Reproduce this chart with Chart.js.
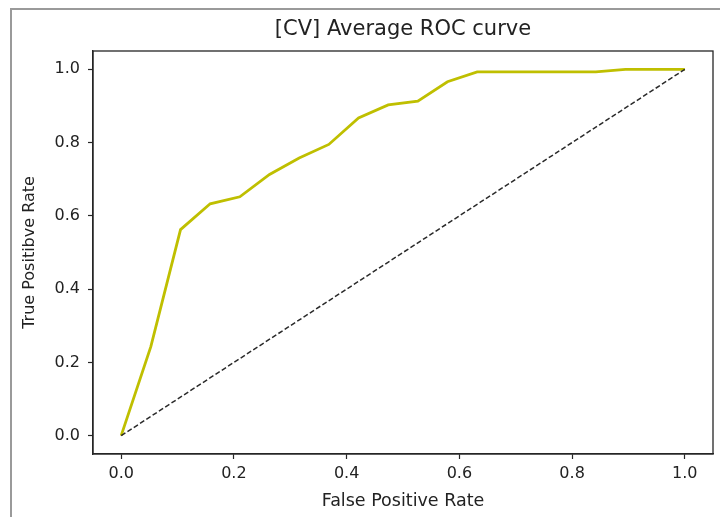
<!DOCTYPE html>
<html>
<head>
<meta charset="utf-8">
<script src="https://cdn.jsdelivr.net/npm/chart.js@4"></script>
<style>
  html, body { margin: 0; padding: 0; background: #fff; }
  #wrap { position: relative; width: 720px; height: 517px; overflow: hidden; }
  #frame { position: absolute; left: 10px; top: 8px; width: 800px; height: 600px;
           border-left: 2px solid #9a9a9a; border-top: 2px solid #9a9a9a; pointer-events: none; }
  canvas { position: absolute; left: 0; top: 0; }
</style>
</head>
<body>
<div id="wrap">
  <canvas id="c" width="720" height="517"></canvas>
  <div id="frame"></div>
</div>
<script>
// ---- data ----
const titleText = "[CV] Average ROC curve";
const xLabel = "False Positive Rate";
const yLabel = "True Positibve Rate";
const fpr = [0, 0.0526, 0.1053, 0.1579, 0.2105, 0.2632, 0.3158, 0.3684, 0.4211, 0.4737,
             0.5263, 0.5789, 0.6316, 0.6842, 0.7368, 0.7895, 0.8421, 0.8947, 0.9474, 1.0];
const tpr = [0, 0.243, 0.5625, 0.633, 0.652, 0.713, 0.758, 0.795, 0.867, 0.903,
             0.913, 0.966, 0.993, 0.993, 0.993, 0.993, 0.993, 1.0, 1.0, 1.0];
const diagX = [0, 1];
const diagY = [0, 1];
const tickValues = [0, 0.2, 0.4, 0.6, 0.8, 1.0];

const FONT = "'DejaVu Sans', sans-serif";
const TXT = '#222';
const AX = '#262626';

const spines = {
  id: 'spines',
  afterDraw(chart) {
    const a = chart.chartArea, ctx = chart.ctx;
    ctx.save();
    ctx.strokeStyle = AX;
    ctx.lineWidth = 1.3;
    ctx.strokeRect(a.left, a.top, a.right - a.left, a.bottom - a.top);
    ctx.restore();
  }
};

function fixTicks(scale) {
  scale.ticks = tickValues.map(v => ({ value: v }));
}

new Chart(document.getElementById('c'), {
  type: 'scatter',
  data: {
    datasets: [
      {
        label: 'chance',
        data: diagX.map((x, i) => ({ x, y: diagY[i] })),
        showLine: true,
        borderColor: '#2a2a2a',
        borderWidth: 1.5,
        borderDash: [5, 2.5],
        pointRadius: 0,
        tension: 0
      },
      {
        label: 'ROC',
        data: fpr.map((x, i) => ({ x, y: tpr[i] })),
        showLine: true,
        borderColor: '#bfbf00',
        borderWidth: 2.8,
        pointRadius: 0,
        tension: 0
      }
    ]
  },
  options: {
    responsive: false,
    animation: false,
    events: [],
    layout: { padding: { left: 0, right: 7, top: 0, bottom: 0 } },
    plugins: {
      legend: { display: false },
      tooltip: { enabled: false },
      title: {
        display: true,
        text: titleText,
        fullSize: false,
        color: TXT,
        font: { family: FONT, size: 21, weight: 'normal' },
        padding: { top: 17, bottom: 8.8 }
      }
    },
    scales: {
      x: {
        type: 'linear',
        min: -0.05, max: 1.05,
        afterBuildTicks: fixTicks,
        afterFit(s) { s.height = 63; s.paddingLeft = 0; s.paddingRight = 0; },
        ticks: {
          color: TXT,
          font: { family: FONT, size: 16 },
          padding: 5,
          maxRotation: 0,
          autoSkip: false,
          callback: v => Number(v).toFixed(1)
        },
        grid: { display: true, drawOnChartArea: false, drawTicks: true, tickLength: 5, color: AX, tickWidth: 1.2 },
        border: { display: true, color: AX, width: 1.3 },
        title: {
          display: true, text: xLabel, color: TXT,
          font: { family: FONT, size: 17.5 },
          padding: { top: 0, bottom: 5 }
        }
      },
      y: {
        type: 'linear',
        min: -0.05, max: 1.05,
        afterBuildTicks: fixTicks,
        afterFit(s) { s.width = 93; s.paddingTop = 0; s.paddingBottom = 0; },
        ticks: {
          color: TXT,
          font: { family: FONT, size: 16 },
          padding: 8,
          autoSkip: false,
          callback: v => Number(v).toFixed(1)
        },
        grid: { display: true, drawOnChartArea: false, drawTicks: true, tickLength: 5, color: AX, tickWidth: 1.2 },
        border: { display: true, color: AX, width: 1.3 },
        title: {
          display: true, text: yLabel, color: TXT,
          font: { family: FONT, size: 16 },
          padding: { top: 20, bottom: 0 }
        }
      }
    }
  },
  plugins: [spines]
});
</script>
</body>
</html>
